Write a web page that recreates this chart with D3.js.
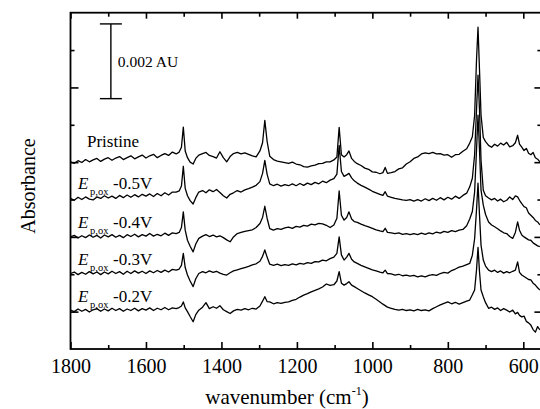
<!DOCTYPE html>
<html>
<head>
<meta charset="utf-8">
<script src="https://cdn.jsdelivr.net/npm/d3@7"></script>
<style>
  html, body { margin: 0; padding: 0; background: #fff; }
  svg { display: block; }
  svg text { font-family: "Liberation Serif", "Times New Roman", serif !important; fill: #000; }
</style>
</head>
<body>
<svg id="chart" width="540" height="409"></svg>
<script>
// Wavenumber grid (cm^-1), shared by every spectrum
const wavenumbers = [
  1800,1790,1780,1770,1760,1750,1740,1730,1720,1710,1700,1690,1680,1670,1660,1650,1640,1630,1620,1610,1600,1590,1580,1570,1560,1550,1540,1530,1520,
  1512,1506,1501,1496,1490,1483,1475,1468,1460,1450,1441,1432,1422,1413,1404,1395,1386,1377,1368,1358,1348,1338,1328,1318,1308,1298,1291,1285,1279,1272,1262,1252,1242,1232,
  1222,1212,1202,1192,1182,1172,1162,1152,1142,1132,1122,1112,1102,1094,1088,1082,1075,1068,1062,1055,1048,1040,1030,1020,1010,1000,990,980,972,966,960,950,940,930,920,910,900,
  890,880,870,860,850,840,830,820,810,800,790,780,770,760,750,742,735,729,724,720,716,712,706,700,692,684,676,668,660,652,644,636,628,621,615,610,604,598,592,586,580,574,568,562,556
];

// Absorbance of each spectrum in units of 1e-5 AU (vertically offset for display)
const pristine = [
  501,497,504,499,507,501,506,510,502,508,512,505,511,515,507,512,517,509,514,519,511,517,521,512,518,523,518,527,522,
  527,540,594,530,512,500,495,510,519,523,526,518,515,511,528,512,501,515,523,526,522,525,521,517,514,530,552,612,556,516,507,503,501,499,
  497,500,495,493,488,487,490,492,496,497,501,501,506,514,593,520,514,520,530,510,502,496,491,484,481,474,473,469,472,486,470,472,475,482,485,495,501,
  510,514,522,525,523,526,522,523,519,520,513,520,521,529,536,551,568,625,773,861,746,626,566,555,545,540,548,543,551,546,553,541,544,552,572,548,540,531,537,524,520,526,512,508,501
];
const epox05 = [
  403,398,406,400,407,401,399,407,403,410,404,409,403,411,405,412,406,413,407,414,409,415,408,416,410,418,412,420,420,
  423,436,489,430,410,397,388,405,420,424,418,426,421,427,419,410,404,414,418,424,420,426,429,433,438,448,470,505,468,442,437,441,436,440,
  437,442,437,443,438,444,440,446,442,449,445,452,456,468,545,475,462,466,470,458,450,444,438,433,428,422,418,414,411,421,409,406,403,401,399,398,400,
  396,400,396,402,397,403,398,405,399,406,401,409,403,411,417,434,457,520,639,733,639,505,425,410,404,399,403,396,401,394,398,407,400,410,407,398,389,381,378,364,358,352,344,340,332
];
const epox04 = [
  300,304,297,303,298,305,299,304,297,305,300,306,299,304,298,306,301,307,300,306,302,309,302,307,303,310,304,311,309,
  312,325,367,318,291,275,260,281,296,302,306,301,305,300,303,298,292,287,300,309,312,315,317,319,325,336,352,382,350,322,318,322,320,324,
  326,323,328,326,331,329,334,332,336,335,331,325,332,350,423,358,345,352,367,348,341,339,334,330,327,323,319,316,314,323,312,311,309,311,307,309,306,
  309,306,310,307,311,308,313,310,315,312,317,314,318,320,330,348,368,420,532,626,532,425,385,360,340,332,327,322,316,311,309,301,296,312,340,318,305,300,296,292,291,284,280,276,274
];
const epox03 = [
  202,206,199,205,200,207,201,206,199,206,201,208,202,207,200,208,202,209,203,208,202,209,204,210,205,211,206,213,211,
  214,224,256,218,198,182,167,188,202,207,204,209,205,208,203,200,198,204,209,212,215,218,221,225,228,235,248,265,246,227,224,227,223,226,
  224,228,225,229,227,231,229,234,233,238,236,242,246,256,300,252,238,246,256,240,233,229,224,220,216,212,209,206,204,211,202,201,198,200,196,198,195,
  197,193,196,193,197,199,197,202,205,203,210,214,219,222,226,229,251,295,372,444,358,278,238,222,211,207,211,205,209,203,207,204,208,211,233,205,198,194,190,186,185,176,171,164,158
];
const epox02 = [
  104,100,107,101,106,99,105,108,101,107,102,109,103,108,101,107,103,109,102,108,104,110,103,109,105,111,105,110,108,
  111,115,126,110,100,87,73,92,104,112,124,108,113,109,116,105,100,95,102,106,104,108,105,109,107,115,128,140,127,126,121,124,122,125,
  126,130,133,139,144,148,153,157,161,166,174,170,172,182,207,176,171,175,180,171,167,162,156,150,145,140,133,126,120,116,112,109,106,104,106,103,105,
  102,106,103,105,102,108,113,118,122,126,121,125,120,124,128,131,145,158,211,272,206,158,140,124,109,112,106,110,103,108,104,99,104,94,98,90,86,88,74,70,64,52,45,60,51
];

const spectra = [pristine, epox05, epox04, epox03, epox02];
const seriesLabels = ["Pristine", "-0.5V", "-0.4V", "-0.3V", "-0.2V"];
const potentialSymbol = "E";
const potentialSubscript = "p,ox";

const xMajorTicks = [1800, 1600, 1400, 1200, 1000, 800, 600];
const xMinorTicks = [1700, 1500, 1300, 1100, 900, 700];
const yMajorTicks = [100, 300, 500, 700];
const yMinorTicks = [200, 400, 600, 800];

const scaleBarValue = 0.002;         // AU
const unitAU = 1e-5;                 // data unit
const scaleBarLabel = "0.002 AU";
const xTitle = "wavenumber (cm";
const yTitle = "Absorbance";

const SERIF = "'Liberation Serif', 'Times New Roman', serif";

// ---------- layout ----------
const frame = { left: 70.5, right: 541.4, top: 12.7, bottom: 349 };
const svg = d3.select("#chart");

const x = d3.scaleLinear().domain([1800, 552]).range([frame.left, frame.right]);
const y = d3.scaleLinear().domain([0, 900]).range([frame.bottom, frame.top]);

svg.append("defs").append("clipPath").attr("id", "plotClip")
  .append("rect")
  .attr("x", frame.left).attr("y", frame.top)
  .attr("width", frame.right - frame.left).attr("height", frame.bottom - frame.top);

// ---------- axes (inward ticks) ----------
function styleAxis(g) {
  g.attr("font-family", SERIF);
  g.select(".domain").remove();
  g.selectAll(".tick line").attr("stroke", "#000").attr("stroke-width", 1.6);
}

svg.append("g").attr("transform", `translate(0,${frame.bottom})`)
  .call(d3.axisBottom(x).tickValues(xMajorTicks).tickSize(-7).tickPadding(10).tickFormat(d3.format("d")))
  .call(styleAxis)
  .call(g => g.selectAll(".tick text").attr("font-size", 20).style("font-family", SERIF));

svg.append("g").attr("transform", `translate(0,${frame.bottom})`)
  .call(d3.axisBottom(x).tickValues(xMinorTicks).tickSize(-4).tickFormat(""))
  .call(styleAxis);

svg.append("g").attr("transform", `translate(0,${frame.top})`)
  .call(d3.axisTop(x).tickValues(xMajorTicks).tickSize(-6).tickFormat(""))
  .call(styleAxis);
svg.append("g").attr("transform", `translate(0,${frame.top})`)
  .call(d3.axisTop(x).tickValues(xMinorTicks).tickSize(-4).tickFormat(""))
  .call(styleAxis);

svg.append("g").attr("transform", `translate(${frame.left},0)`)
  .call(d3.axisLeft(y).tickValues(yMajorTicks).tickSize(-8).tickFormat(""))
  .call(styleAxis);
svg.append("g").attr("transform", `translate(${frame.left},0)`)
  .call(d3.axisLeft(y).tickValues(yMinorTicks).tickSize(-4).tickFormat(""))
  .call(styleAxis);

svg.append("g").attr("transform", `translate(${frame.right},0)`)
  .call(d3.axisRight(y).tickValues(yMajorTicks).tickSize(-7).tickFormat(""))
  .call(styleAxis);
svg.append("g").attr("transform", `translate(${frame.right},0)`)
  .call(d3.axisRight(y).tickValues(yMinorTicks).tickSize(-4).tickFormat(""))
  .call(styleAxis);

// plot frame
svg.append("rect")
  .attr("x", frame.left).attr("y", frame.top)
  .attr("width", frame.right - frame.left).attr("height", frame.bottom - frame.top)
  .attr("fill", "none").attr("stroke", "#000").attr("stroke-width", 1.8);

// ---------- spectra ----------
const line = d3.line()
  .x((d, i) => x(wavenumbers[i]))
  .y(d => y(d))
  .curve(d3.curveLinear);

svg.append("g").attr("clip-path", "url(#plotClip)")
  .selectAll("path.spectrum")
  .data(spectra)
  .join("path")
  .attr("class", "spectrum")
  .attr("d", line)
  .attr("fill", "none")
  .attr("stroke", "#000")
  .attr("stroke-width", 1.3)
  .attr("stroke-linejoin", "round");

// ---------- trace labels ----------
const labelBaselines = [147, 189, 228, 265, 302];
seriesLabels.forEach((lab, i) => {
  if (i === 0) {
    svg.append("text").attr("x", 87).attr("y", labelBaselines[i])
      .attr("font-size", 17).style("font-family", SERIF).text(lab);
  } else {
    const t = svg.append("text").attr("x", 78).attr("y", labelBaselines[i])
      .attr("font-size", 17).style("font-family", SERIF);
    t.append("tspan").attr("font-style", "italic").text(potentialSymbol);
    t.append("tspan").attr("x", 90).attr("dy", 6).attr("font-size", 10.5).text(potentialSubscript);
    t.append("tspan").attr("x", 113).attr("dy", -6).text(lab);
  }
});

// ---------- scale bar ----------
const barW = 1693;
const barLow = 670;
const barHigh = barLow + scaleBarValue / unitAU;
const bx = x(barW);
const sb = svg.append("g").attr("stroke", "#000").attr("stroke-width", 1.4);
sb.append("line").attr("x1", bx).attr("x2", bx).attr("y1", y(barHigh)).attr("y2", y(barLow));
sb.append("line").attr("x1", bx - 11).attr("x2", bx + 11).attr("y1", y(barHigh)).attr("y2", y(barHigh));
sb.append("line").attr("x1", bx - 11).attr("x2", bx + 11).attr("y1", y(barLow)).attr("y2", y(barLow));
svg.append("text").attr("x", bx + 7).attr("y", y((barLow + barHigh) / 2) + 5.5)
  .attr("font-size", 15.5).style("font-family", SERIF).text(scaleBarLabel);

// ---------- axis titles ----------
const xt = svg.append("text").attr("x", 287).attr("y", 404)
  .attr("text-anchor", "middle").attr("font-size", 21).style("font-family", SERIF);
xt.append("tspan").text(xTitle);
xt.append("tspan").attr("dy", -9).attr("font-size", 12).text("-1");
xt.append("tspan").attr("dy", 9).text(")");

svg.append("text")
  .attr("transform", "translate(35,186) rotate(-90)")
  .attr("text-anchor", "middle").attr("font-size", 20).style("font-family", SERIF)
  .text(yTitle);
</script>
</body>
</html>
